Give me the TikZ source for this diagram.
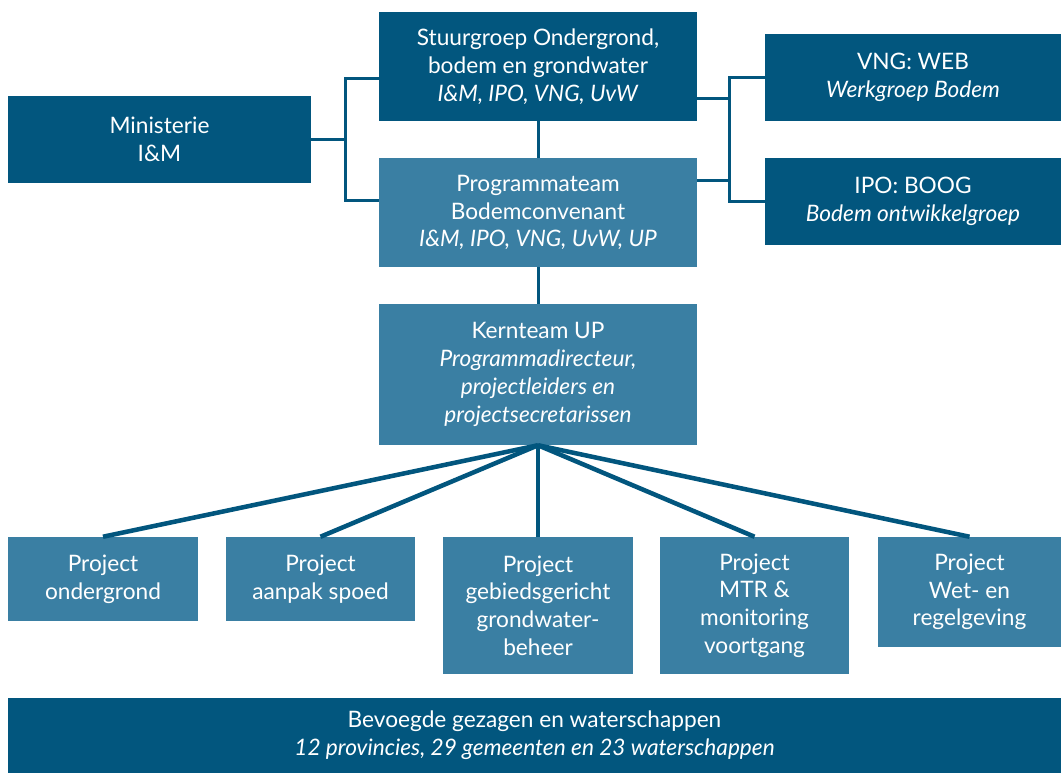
\documentclass[tikz,border=0pt]{standalone}
\usepackage{fontspec}
\setmainfont{Lato}
\usetikzlibrary{positioning,calc}

\definecolor{dkblue}{RGB}{2,86,126}
\definecolor{ltblue}{RGB}{58,127,163}

\tikzset{
  box/.style n args={3}{fill=#1, text=white, align=center, inner sep=0pt,
    minimum width=#2*0.75pt, minimum height=#3*0.75pt,
    font=\fontsize{17}{20.8}\selectfont},
  link/.style={draw=dkblue, line width=2.25pt},
  fan/.style={draw=dkblue, line width=3.4pt},
}

\begin{document}
\begin{tikzpicture}[x=0.75pt,y=-0.75pt]
  \useasboundingbox (0,0) rectangle (1061,774); %page size in px

  %Top level
  \node[box={dkblue}{318}{109}] (stuur) at (538,66.5)
    {Stuurgroep Ondergrond,\\bodem en grondwater\\\textit{I\&M, IPO, VNG, UvW}};
  \node[box={ltblue}{318}{109}] (prog) at (538,212.5)
    {Programmateam\\Bodemconvenant\\\textit{I\&M, IPO, VNG, UvW, UP}};
  \node[box={dkblue}{303}{87}] (minis) at (159.5,139.5) {Ministerie\\I\&M};
  \node[box={dkblue}{296}{87}] (vng) at (913,77.5) {VNG: WEB\\\textit{Werkgroep Bodem}};
  \node[box={dkblue}{296}{87}] (ipo) at (913,201.5) {IPO: BOOG\\\textit{Bodem ontwikkelgroep}};
  \node[box={ltblue}{318}{141}] (kern) at (538,374.5)
    {Kernteam UP\\\textit{Programmadirecteur,}\\\textit{projectleiders en}\\\textit{projectsecretarissen}};

  %Projects
  \node[box={ltblue}{190}{84}]  (pa) at (103,579)   {Project\\ondergrond};
  \node[box={ltblue}{189}{84}]  (pb) at (320.5,579) {Project\\aanpak spoed};
  \node[box={ltblue}{190}{137}] (pc) at (538,605.5) {Project\\gebiedsgericht\\grondwater-\\beheer};
  \node[box={ltblue}{189}{137}] (pd) at (754.5,605.5) {Project\\MTR \&\\monitoring\\voortgang};
  \node[box={ltblue}{183}{110}] (pe) at (969.5,592) {Project\\Wet- en\\regelgeving};

  %Bottom bar
  \node[box={dkblue}{1053}{75}] (bevoegd) at (534.5,735.5)
    {Bevoegde gezagen en waterschappen\\\textit{12 provincies, 29 gemeenten en 23 waterschappen}};

  %Left bracket
  \draw[link] (minis.east) -- ++(34,0) |- ($(stuur.west)+(0,12.5)$);
  \draw[link] (minis.east) -- ++(34,0) |- ($(prog.west)+(0,-12.5)$);

  %Right bracket
  \draw[link] (vng.west) -- ++(-35,0) |- (ipo.west);
  \draw[link] ($(stuur.east)+(0,32.5)$) -- ++(33,0);
  \draw[link] ($(prog.east)+(0,-32.5)$) -- ++(33,0);

  %Spine
  \draw[link] (stuur.south) -- (prog.north);
  \draw[link] (prog.south) -- (kern.north);

  %Fan to projects
  \foreach \p in {pa,pb,pc,pd,pe}
    \draw[fan] (kern.south) -- (\p.north);
\end{tikzpicture}
\end{document}
